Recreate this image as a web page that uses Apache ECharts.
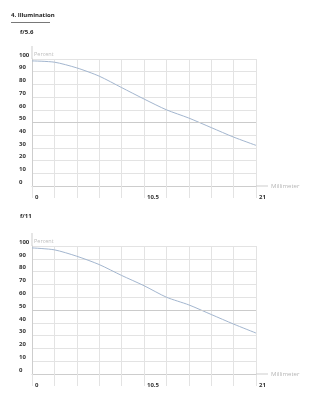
<!DOCTYPE html>
<html><head><meta charset="utf-8">
<script src="https://cdn.jsdelivr.net/npm/echarts@6/dist/echarts.min.js"></script>
<style>html,body{margin:0;padding:0;background:#fff}#c{width:309px;height:400px}</style>
</head><body><div id="c"></div>
<script>
const chartTitle = '4. Illumination';
const panelTitles = ['f/5.6', 'f/11'];
const xValues = [0, 2.1, 4.2, 6.3, 8.4, 10.5, 12.6, 14.7, 16.8, 18.9, 21];
const illumF56 = [98.5, 97.5, 93, 86.5, 77.5, 68.5, 60, 53.5, 46, 38.5, 32];
const illumF11 = [98.5, 97, 92, 85.5, 77, 69, 60, 54, 46.5, 39, 32];
const xTickLabels = [0, 10.5, 21];
const yAxisName = 'Percent';
const xAxisName = 'Millimeter';
const midLevel = 50;

const FF = '"Open Sans", Lato, sans-serif';
const GRID_C = '#e3e3e3';
const AXIS_C = '#cdcdcd';
const LINE_C = '#a3b6cf';

const grids = [
  {left: 32, top: 59, width: 224, height: 127},
  {left: 32, top: 246, width: 224, height: 128}
];

function xAxisCfg(i) {
  return {
    gridIndex: i, type: 'value', min: 0, max: 21, interval: 2.1,
    name: xAxisName, nameLocation: 'end', nameGap: 15, nameMoveOverlap: false,
    nameTextStyle: {color: '#b5b5b5', fontSize: 6, fontFamily: FF, verticalAlign: 'middle'},
    axisLine: {show: true, lineStyle: {color: AXIS_C, width: 1}, symbol: ['none', 'rect'], symbolSize: [1, 12], symbolOffset: [0, 6]},
    axisTick: {show: true, length: 12, lineStyle: {color: GRID_C, width: 1}},
    splitLine: {show: true, lineStyle: {color: GRID_C, width: 1}},
    axisLabel: {
      formatter: function (v) {
        const t = xTickLabels.find(function (k) { return Math.abs(k - v) < 1e-6; });
        return t === undefined ? '' : String(t);
      },
      align: 'left', padding: [0, 0, 0, 3], margin: 8,
      fontSize: 6, fontWeight: 'bold', color: '#333', fontFamily: FF
    }
  };
}
function yAxisCfg(i) {
  return {
    gridIndex: i, type: 'value', min: 0, max: 100, interval: 10,
    name: yAxisName, nameLocation: 'end', nameGap: 2, nameMoveOverlap: false,
    nameTextStyle: {align: 'left', verticalAlign: 'bottom', padding: [0, 0, 0, 2], color: '#bdbdbd', fontSize: 5.5, fontFamily: FF},
    axisLine: {show: true, lineStyle: {color: AXIS_C, width: 1}, symbol: ['none', 'rect'], symbolSize: [1, 13], symbolOffset: [0, 6.5]},
    axisTick: {show: false},
    splitLine: {show: true, lineStyle: {color: GRID_C, width: 1}},
    axisLabel: {align: 'left', margin: 13, verticalAlign: 'bottom', padding: [0, 0, 1, 0], fontSize: 6, fontWeight: 'bold', color: '#333', fontFamily: FF}
  };
}
function seriesCfg(i, data) {
  return {
    type: 'line', xAxisIndex: i, yAxisIndex: i,
    data: xValues.map(function (x, k) { return [x, data[k]]; }),
    smooth: 0.25, symbol: 'none',
    lineStyle: {color: LINE_C, width: 1},
    markLine: {silent: true, symbol: ['none', 'none'], label: {show: false},
      lineStyle: {color: '#cbcbcb', type: 'solid', width: 1},
      data: [{yAxis: midLevel}]}
  };
}

const chart = echarts.init(document.getElementById('c'), null, {renderer: 'canvas'});
chart.setOption({
  animation: false,
  backgroundColor: '#fff',
  title: [
    {text: chartTitle, left: 11, top: 12, padding: 0, textStyle: {fontSize: 6, fontWeight: 'bold', color: '#222', fontFamily: FF}},
    {text: panelTitles[0], left: 20, top: 29.5, padding: 0, textStyle: {fontSize: 6, fontWeight: 'bold', color: '#222', fontFamily: FF}},
    {text: panelTitles[1], left: 20, top: 213, padding: 0, textStyle: {fontSize: 6, fontWeight: 'bold', color: '#222', fontFamily: FF}}
  ],
  graphic: [
    {type: 'line', shape: {x1: 11, y1: 22.5, x2: 50, y2: 22.5}, style: {stroke: '#555', lineWidth: 0.8}}
  ],
  grid: grids,
  xAxis: [xAxisCfg(0), xAxisCfg(1)],
  yAxis: [yAxisCfg(0), yAxisCfg(1)],
  series: [seriesCfg(0, illumF56), seriesCfg(1, illumF11)]
});
</script>
</body></html>
